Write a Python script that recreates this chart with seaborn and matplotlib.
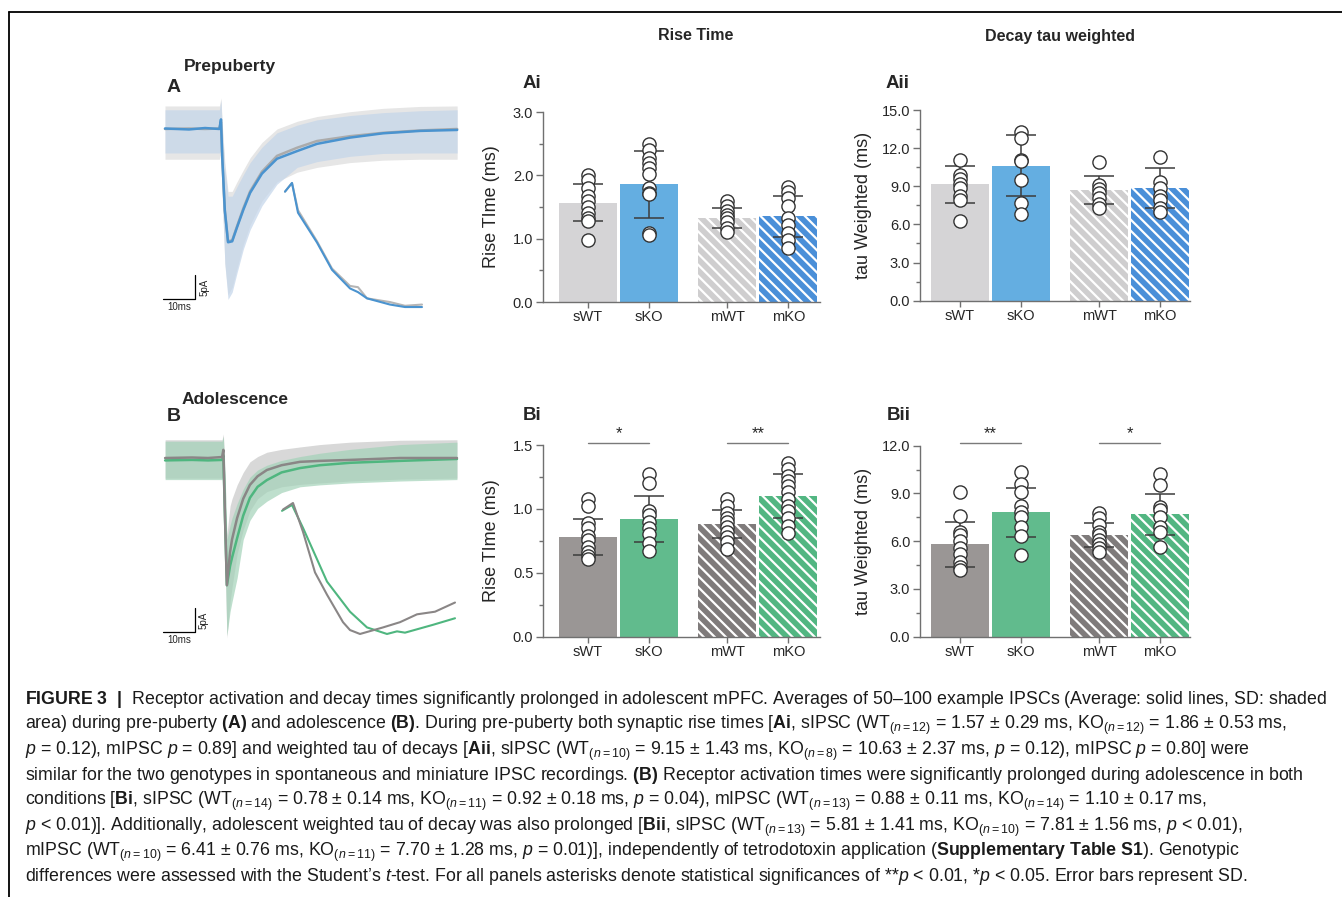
import numpy as np
import pandas as pd
import matplotlib
matplotlib.use("Agg")
import matplotlib.pyplot as plt
import seaborn as sns
from matplotlib.lines import Line2D
from matplotlib.ticker import MultipleLocator, FormatStrFormatter, NullLocator
from matplotlib import font_manager as fm

# ------------------------
# Bar data (read off the figure / caption)
# ------------------------
groups = ["sWT", "sKO", "mWT", "mKO"]
bar_pos = [0.0, 1.0, 2.28, 3.28]

Ai_mean = [1.57, 1.86, 1.33, 1.35]
Ai_sd = [0.29, 0.53, 0.16, 0.32]
Ai_pts = [[2.01, 1.93, 1.80, 1.68, 1.60, 1.50, 1.40, 1.33, 1.28, 0.98],
          [2.50, 2.40, 2.27, 2.20, 2.12, 2.02, 1.80, 1.72, 1.70, 1.09, 1.05],
          [1.59, 1.52, 1.44, 1.38, 1.33, 1.27, 1.17, 1.10],
          [1.82, 1.73, 1.64, 1.51, 1.33, 1.22, 1.09, 0.98, 0.86]]

Aii_mean = [9.15, 10.63, 8.70, 8.85]
Aii_sd = [1.43, 2.37, 1.07, 1.55]
Aii_pts = [[11.07, 9.85, 9.55, 9.20, 8.85, 8.20, 7.95, 6.30],
           [13.25, 12.80, 11.10, 11.00, 9.50, 7.70, 6.80],
           [10.94, 9.10, 8.80, 8.50, 8.05, 7.60, 7.26],
           [11.28, 9.30, 8.85, 8.25, 7.90, 7.30, 7.00]]

Bi_mean = [0.78, 0.92, 0.88, 1.10]
Bi_sd = [0.14, 0.18, 0.11, 0.17]
Bi_pts = [[1.08, 1.02, 0.89, 0.85, 0.79, 0.76, 0.70, 0.66, 0.63, 0.61],
          [1.27, 1.20, 0.98, 0.95, 0.90, 0.85, 0.80, 0.73, 0.67],
          [1.08, 1.02, 0.97, 0.93, 0.90, 0.86, 0.82, 0.78, 0.74, 0.69],
          [1.36, 1.31, 1.26, 1.22, 1.18, 1.13, 1.08, 1.02, 0.98, 0.93, 0.87, 0.81]]

Bii_mean = [5.81, 7.81, 6.41, 7.70]
Bii_sd = [1.41, 1.56, 0.76, 1.28]
Bii_pts = [[9.07, 7.60, 6.60, 6.40, 6.00, 5.60, 5.20, 4.70, 4.40, 4.20],
           [10.37, 9.60, 9.10, 8.20, 7.85, 7.50, 6.90, 6.30, 5.13],
           [7.75, 7.43, 7.00, 6.60, 6.40, 6.10, 5.80, 5.60, 5.35],
           [10.22, 9.53, 8.17, 7.95, 7.55, 6.90, 6.60, 5.65]]

Bi_sig = [(0, 1, "*"), (2, 3, "**")]
Bii_sig = [(0, 1, "**"), (2, 3, "*")]

colors_A = ["#d5d4d6", "#64aee1", "#cfcecf", "#4a8fd8"]
colors_B = ["#9a9695", "#61bb8d", "#7f7b7b", "#52b682"]

# ------------------------
# Trace data: time (ms), current (pA)
# ------------------------
tA = [-17.5, -10, -5, -0.5, 0.0, 0.4, 1.2, 2.2, 3.5, 5.0, 7.0, 9.1, 12.8, 17.5,
      23.8, 30.0, 40.3, 50.6, 62.2, 73.8]
A_ko = [0.1, -0.1, 0.2, 0.0, 2.0, -6.0, -17.0, -23.6, -23.4, -20.5, -16.8, -13.3, -9.3,
        -6.2, -4.6, -3.1, -1.8, -0.9, -0.4, -0.2]
A_wt = [0.0, 0.1, 0.0, 0.1, 1.5, -6.0, -17.0, -23.4, -23.2, -20.3, -16.5, -13.0, -8.9,
        -5.6, -3.9, -2.5, -1.5, -0.8, -0.3, 0.0]
A_ko_hi = [4.0, 4.0, 4.0, 4.0, 6.0, 0.0, -8.0, -14.0, -14.0, -12.0, -9.5, -7.0, -3.8,
           -0.8, 0.8, 1.9, 2.8, 3.4, 3.8, 4.0]
A_ko_lo = [-5.0, -5.0, -5.0, -5.0, -4.5, -14.0, -28.0, -35.5, -34.0, -30.0, -25.0, -21.0,
           -16.0, -11.5, -8.0, -6.8, -5.7, -5.1, -5.0, -5.0]
A_wt_hi = [4.8, 4.8, 4.8, 4.8, 6.5, 1.0, -7.0, -13.0, -13.0, -11.0, -8.5, -6.0, -2.8,
           0.0, 1.6, 2.6, 3.6, 4.3, 4.7, 4.8]
A_wt_lo = [-6.3, -6.3, -6.3, -6.3, -5.0, -14.0, -28.0, -34.5, -33.0, -29.0, -24.0, -20.0,
           -15.0, -11.0, -9.0, -8.0, -7.0, -6.5, -6.3, -6.3]

tB = [-18.4, -10, -5, -0.6, -0.2, 0.3, 0.9, 1.9, 2.5, 4.1, 6.0, 8.1, 10.5, 13.4, 18.0,
      23.75, 30.0, 39.4, 55.0, 72.8]
B_wt = [0.0, 0.1, 0.0, 0.2, 1.7, -12.0, -26.5, -19.6, -17.0, -12.5, -8.5, -5.6, -3.8,
        -2.5, -1.5, -0.8, -0.6, -0.4, 0.0, 0.0]
B_ko = [-0.5, -0.4, -0.5, -0.4, 0.5, -12.0, -26.5, -22.5, -20.8, -16.7, -12.0, -8.3,
        -6.0, -4.6, -3.0, -2.1, -1.5, -1.0, -0.6, -0.2]
B_wt_hi = [3.8, 3.8, 3.8, 3.8, 5.0, -2.0, -16.0, -10.0, -8.5, -5.6, -3.0, -0.8, 0.3,
           1.2, 1.8, 2.3, 2.8, 3.3, 3.7, 3.8]
B_wt_lo = [-4.2, -4.2, -4.2, -4.2, -3.0, -20.0, -37.5, -30.0, -27.0, -20.0, -15.0,
           -11.0, -8.5, -7.0, -6.0, -5.5, -5.2, -4.8, -4.4, -4.2]
B_ko_hi = [3.5, 3.5, 3.5, 3.5, 4.5, -3.0, -17.0, -14.0, -12.5, -9.5, -6.5, -4.0, -2.5,
           -1.5, -0.5, 0.3, 1.0, 1.8, 2.8, 3.3]
B_ko_lo = [-4.5, -4.5, -4.5, -4.5, -3.5, -20.0, -37.0, -32.0, -30.0, -25.0, -17.0,
           -13.0, -10.5, -9.0, -7.2, -6.0, -5.6, -5.2, -4.8, -4.5]

# insets: expanded time (ms), normalised current
tIA = [0.04, 0.18, 0.30, 0.68, 0.98, 1.34, 1.50, 1.68, 2.14, 2.44, 2.78]
IA_ko = [-0.07, 0.0, -0.24, -0.48, -0.70, -0.85, -0.88, -0.93, -0.98, -1.0, -1.0]
IA_wt = [-0.07, 0.0, -0.22, -0.47, -0.69, -0.83, -0.84, -0.93, -0.96, -0.99, -0.98]

tIB_wt = [0.0, 0.2, 0.4, 0.64, 0.88, 1.2, 1.34, 1.54, 2.0, 2.34, 2.68, 3.04, 3.44]
IB_wt = [-0.05, 0.0, -0.22, -0.53, -0.70, -0.91, -0.97, -1.0, -0.95, -0.91, -0.85, -0.83, -0.76]
tIB_ko = [-0.02, 0.18, 0.4, 0.88, 1.34, 1.68, 2.08, 2.28, 2.44, 3.0, 3.44]
IB_ko = [-0.06, -0.015, -0.19, -0.60, -0.83, -0.95, -1.0, -0.98, -0.99, -0.93, -0.88]

caption_lines = [
    r"$\mathbf{FIGURE\ 3\ \ |}$  Receptor activation and decay times significantly prolonged in adolescent mPFC. Averages of 50–100 example IPSCs (Average: solid lines, SD: shaded",
    r"area) during pre-puberty $\mathbf{(A)}$ and adolescence $\mathbf{(B)}$. During pre-puberty both synaptic rise times [$\mathbf{Ai}$, sIPSC (WT$_{(n=12)}$ = 1.57 $\pm$ 0.29 ms, KO$_{(n=12)}$ = 1.86 $\pm$ 0.53 ms,",
    r"$p$ = 0.12), mIPSC $p$ = 0.89] and weighted tau of decays [$\mathbf{Aii}$, sIPSC (WT$_{(n=10)}$ = 9.15 $\pm$ 1.43 ms, KO$_{(n=8)}$ = 10.63 $\pm$ 2.37 ms, $p$ = 0.12), mIPSC $p$ = 0.80] were",
    r"similar for the two genotypes in spontaneous and miniature IPSC recordings. $\mathbf{(B)}$ Receptor activation times were significantly prolonged during adolescence in both",
    r"conditions [$\mathbf{Bi}$, sIPSC (WT$_{(n=14)}$ = 0.78 $\pm$ 0.14 ms, KO$_{(n=11)}$ = 0.92 $\pm$ 0.18 ms, $p$ = 0.04), mIPSC (WT$_{(n=13)}$ = 0.88 $\pm$ 0.11 ms, KO$_{(n=14)}$ = 1.10 $\pm$ 0.17 ms,",
    r"$p$ < 0.01)]. Additionally, adolescent weighted tau of decay was also prolonged [$\mathbf{Bii}$, sIPSC (WT$_{(n=13)}$ = 5.81 $\pm$ 1.41 ms, KO$_{(n=10)}$ = 7.81 $\pm$ 1.56 ms, $p$ < 0.01),",
    r"mIPSC (WT$_{(n=10)}$ = 6.41 $\pm$ 0.76 ms, KO$_{(n=11)}$ = 7.70 $\pm$ 1.28 ms, $p$ = 0.01)], independently of tetrodotoxin application ($\mathbf{Supplementary\ Table\ S1}$). Genotypic",
    r"differences were assessed with the Student’s $t$-test. For all panels asterisks denote statistical significances of **$p$ < 0.01, *$p$ < 0.05. Error bars represent SD.",
]

# ------------------------
# Style
# ------------------------
sns.set_theme(style="ticks")
plt.rcParams["font.family"] = ["Liberation Sans", "DejaVu Sans"]
plt.rcParams["hatch.linewidth"] = 1.6

try:
    fm.findfont("Liberation Sans Narrow", fallback_to_default=False)
    cap_font = "Liberation Sans Narrow"
except ValueError:
    cap_font = "Liberation Sans"
plt.rcParams["mathtext.fontset"] = "custom"
plt.rcParams["mathtext.rm"] = cap_font
plt.rcParams["mathtext.it"] = cap_font + ":italic"
plt.rcParams["mathtext.bf"] = cap_font + ":bold"

W, H = 1342, 897
fig = plt.figure(figsize=(W / 100, H / 100), dpi=100)


def px_axes(l, t, r, b):
    return fig.add_axes([l / W, 1 - b / H, (r - l) / W, (b - t) / H])


def bar_panel(ax, means, sds, pts, colors, top, major, minor, ylabel, xlim, lab_x,
              sig=None, sig_y=None, star_y=None):
    bars = pd.DataFrame({"pos": bar_pos, "mean": means, "grp": groups})
    sns.barplot(data=bars, x="pos", y="mean", hue="grp", hue_order=groups, palette=colors,
                native_scale=True, width=0.95, errorbar=None, saturation=1,
                legend=False, ax=ax)
    for patch in ax.patches:
        cx = patch.get_x() + patch.get_width() / 2
        k = int(np.argmin(np.abs(np.array(bar_pos) - cx)))
        if groups[k].startswith("m"):
            patch.set_hatch("\\\\\\")
            patch.set_edgecolor("white")
        else:
            patch.set_edgecolor("none")
        patch.set_linewidth(0)

    ax.errorbar(bar_pos, means, yerr=sds, fmt="none", ecolor="#3c3c3c",
                elinewidth=1.1, capsize=11, capthick=1.1, zorder=4)

    long = pd.DataFrame({"pos": np.repeat(bar_pos, [len(p) for p in pts]),
                         "val": np.concatenate(pts)})
    sns.stripplot(data=long, x="pos", y="val", native_scale=True, jitter=False,
                  color="white", edgecolor="#333333", linewidth=1.0, size=9.5,
                  ax=ax, zorder=5)

    if sig:
        for i, j, lab in sig:
            ax.plot([bar_pos[i], bar_pos[j]], [sig_y, sig_y], color="#7a7a7a", lw=1,
                    clip_on=False)
            ax.text((bar_pos[i] + bar_pos[j]) / 2, star_y, lab, ha="center", va="center",
                    fontsize=12, clip_on=False)

    sns.despine(ax=ax)
    for s in ("left", "bottom"):
        ax.spines[s].set_color("#707070")
        ax.spines[s].set_linewidth(1)
    ax.set_ylim(0, top)
    ax.set_xlim(*xlim)
    ax.yaxis.set_major_locator(MultipleLocator(major))
    ax.yaxis.set_minor_locator(MultipleLocator(minor))
    ax.yaxis.set_major_formatter(FormatStrFormatter("%.1f"))
    ax.set_xticks(bar_pos)
    ax.set_xticklabels(groups)
    ax.xaxis.set_minor_locator(NullLocator())
    ax.tick_params(axis="y", which="major", length=5, width=1, color="#707070",
                   labelsize=10.5, pad=2)
    ax.tick_params(axis="y", which="minor", length=3, width=1, color="#707070")
    ax.tick_params(axis="x", length=4, width=1, color="#707070", labelsize=10.5, pad=2)
    ax.set_xlabel("")
    ax.set_ylabel(ylabel, fontsize=13)
    ax.yaxis.set_label_coords(lab_x, 0.5)
    ax.set_facecolor("none")


def trace_panel(box, xlim, ylim, t, wt, ko, wt_lo, wt_hi, ko_lo, ko_hi, c_wt, c_ko,
                band_wt, band_ko, ko_on_top, bar_x, bar_y, px_ms, px_pa):
    ax = px_axes(*box)
    ax.fill_between(t, wt_lo, wt_hi, color=band_wt, lw=0, zorder=1)
    ax.fill_between(t, ko_lo, ko_hi, color=band_ko, alpha=0.7, lw=0, zorder=2)
    z_wt, z_ko = (3, 4) if ko_on_top else (4, 3)
    sns.lineplot(x=t, y=wt, color=c_wt, linewidth=1.8, ax=ax, zorder=z_wt)
    sns.lineplot(x=t, y=ko, color=c_ko, linewidth=1.8, ax=ax, zorder=z_ko)
    # scale bar: 10 ms / 5 pA
    ax.plot([bar_x, bar_x + 10, bar_x + 10], [bar_y, bar_y, bar_y + 5], color="black",
            lw=0.9, clip_on=False)
    ax.text(bar_x + 5, bar_y - 8 / px_pa, "10ms", ha="center", va="center", fontsize=7)
    ax.text(bar_x + 10 + 9 / px_ms, bar_y + 2.5, "5pA", ha="center", va="center",
            rotation=90, fontsize=7)
    ax.set_xlim(*xlim)
    ax.set_ylim(*ylim)
    ax.axis("off")
    return ax


def inset_panel(box, xlim, ylim, series):
    ax = px_axes(*box)
    for x, y, c in series:
        sns.lineplot(x=x, y=y, color=c, linewidth=1.5, ax=ax, sort=False)
    ax.set_xlim(*xlim)
    ax.set_ylim(*ylim)
    ax.axis("off")


# ------------------------
# Traces
# ------------------------
trace_panel((160, 95, 460, 310), (-19.06, 74.69), (-37.71, 7.08), tA, A_wt, A_ko,
            A_wt_lo, A_wt_hi, A_ko_lo, A_ko_hi, "#ababab", "#4a93cf", "#e6e6e6",
            "#c3d5ea", True, -18.1, -35.4, 3.2, 4.8)
inset_panel((280, 178, 460, 312), (-0.06, 3.54), (-1.04, 0.04),
            [(tIA, IA_wt, "#b5b5b5"), (tIA, IA_ko, "#4a93cf")])

trace_panel((160, 425, 460, 645), (-20.0, 73.75), (-38.96, 6.875), tB, B_wt, B_ko,
            B_wt_lo, B_wt_hi, B_ko_lo, B_ko_hi, "#8a8686", "#4fb67f", "#d8d8d8",
            "#a3d2b8", False, -19.06, -36.25, 3.2, 4.8)
inset_panel((278, 498, 460, 640), (-0.1, 3.54), (-1.046, 0.038),
            [(tIB_ko, IB_ko, "#4fb67f"), (tIB_wt, IB_wt, "#8a8686")])

# ------------------------
# Bar panels
# ------------------------
xl_i = (-0.738, 3.80)
xl_ii = (-0.656, 3.77)
bar_panel(px_axes(543, 112, 820, 302), Ai_mean, Ai_sd, Ai_pts, colors_A, 3.0, 1.0, 0.5,
          "Rise TIme (ms)", xl_i, -0.155)
bar_panel(px_axes(920, 110, 1190, 300.7), Aii_mean, Aii_sd, Aii_pts, colors_A, 15.0, 3.0,
          1.5, "tau Weighted (ms)", xl_ii, -0.178)
bar_panel(px_axes(543, 445, 820, 636.7), Bi_mean, Bi_sd, Bi_pts, colors_B, 1.5, 0.5, 0.25,
          "Rise TIme (ms)", xl_i, -0.155, Bi_sig, 1.513, 1.59)
bar_panel(px_axes(920, 445.7, 1190, 636.7), Bii_mean, Bii_sd, Bii_pts, colors_B, 12.0, 3.0,
          1.5, "tau Weighted (ms)", xl_ii, -0.178, Bii_sig, 12.15, 12.78)

# ------------------------
# Labels
# ------------------------
def ftext(x, y, s, **kw):
    fig.text(x / W, 1 - y / H, s, **kw)


ftext(696, 36, "Rise Time", ha="center", va="center", fontsize=11.5, weight="bold")
ftext(1060, 36, "Decay tau weighted", ha="center", va="center", fontsize=11.5, weight="bold")
ftext(184, 66, "Prepuberty", ha="left", va="center", fontsize=12.5, weight="bold")
ftext(167, 87, "A", ha="left", va="center", fontsize=14, weight="bold")
ftext(182, 399, "Adolescence", ha="left", va="center", fontsize=12.5, weight="bold")
ftext(167, 416, "B", ha="left", va="center", fontsize=14, weight="bold")
ftext(523, 84, "Ai", ha="left", va="center", fontsize=13.5, weight="bold")
ftext(886, 84, "Aii", ha="left", va="center", fontsize=13.5, weight="bold")
ftext(523, 415, "Bi", ha="left", va="center", fontsize=13.5, weight="bold")
ftext(887, 415, "Bii", ha="left", va="center", fontsize=13.5, weight="bold")

# frame lines
fig.add_artist(Line2D([9 / W, 1], [1 - 12 / H, 1 - 12 / H], color="black", lw=1.3,
                      transform=fig.transFigure))
fig.add_artist(Line2D([9 / W, 9 / W], [1 - 12 / H, 0], color="black", lw=1.3,
                      transform=fig.transFigure))

# ------------------------
# Caption, scaled so the first line spans the text block
# ------------------------
cap_texts = []
for i, line in enumerate(caption_lines):
    cap_texts.append(fig.text(25 / W, 1 - (704 + 25.3 * i) / H, line, fontsize=12,
                              family=cap_font, ha="left", va="baseline", color="#1a1a1a"))
fig.canvas.draw()
renderer = fig.canvas.get_renderer()
w1 = cap_texts[0].get_window_extent(renderer).width
for t in cap_texts:
    t.set_fontsize(12 * 1296 / w1)

fig.savefig("out.png", dpi=100, facecolor="white")
